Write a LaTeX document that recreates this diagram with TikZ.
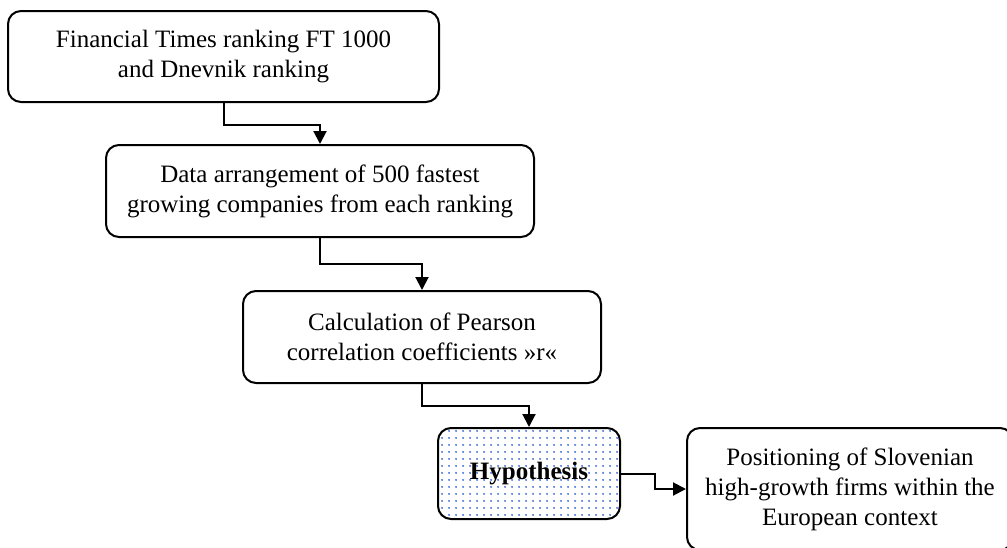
\documentclass[tikz,border=0pt]{standalone}
\usepackage{fontspec}
\setmainfont{Liberation Serif}
\usetikzlibrary{arrows.meta,patterns.meta}
\definecolor{dotblue}{RGB}{60,105,215}
\tikzset{
  box/.style={draw, line width=2pt, rounded corners=13pt, align=center,
    font=\fontsize{25}{30}\selectfont, inner sep=0pt},
  conn/.style={line width=2pt, -{Triangle[width=13pt,length=13pt]}},
}
\begin{document}
\begin{tikzpicture}[x=1pt,y=-1pt]
\useasboundingbox (0,0) rectangle (1007,547);
\node[box, minimum width=431pt, minimum height=91pt] (b1) at (223.5,56.5)
  {Financial Times ranking FT 1000\\and Dnevnik ranking};
\node[box, minimum width=428pt, minimum height=92pt] (b2) at (320,191)
  {Data arrangement of 500 fastest\\growing companies from each ranking};
\node[box, minimum width=358pt, minimum height=92pt] (b3) at (422,337)
  {Calculation of Pearson\\correlation coefficients »r«};
\node[box, minimum width=182pt, minimum height=91pt,
  pattern={Dots[distance=6.5pt, radius=1.1pt]}, pattern color=dotblue,
  font=\fontsize{25}{30}\selectfont\bfseries] (h) at (529,473.5) {Hypothesis};
\node[box, minimum width=326pt, minimum height=122pt] (b5) at (850,489)
  {Positioning of Slovenian\\high-growth firms within the\\European context};
\draw[conn] (b1.south) -- ++(0,22) -| (b2.north);
\draw[conn] (b2.south) -- ++(0,26) -| (b3.north);
\draw[conn] (b3.south) -- ++(0,22) -| (h.north);
\draw[conn] (h.east) -- ++(34,0) |- (b5.west);
\end{tikzpicture}
\end{document}
